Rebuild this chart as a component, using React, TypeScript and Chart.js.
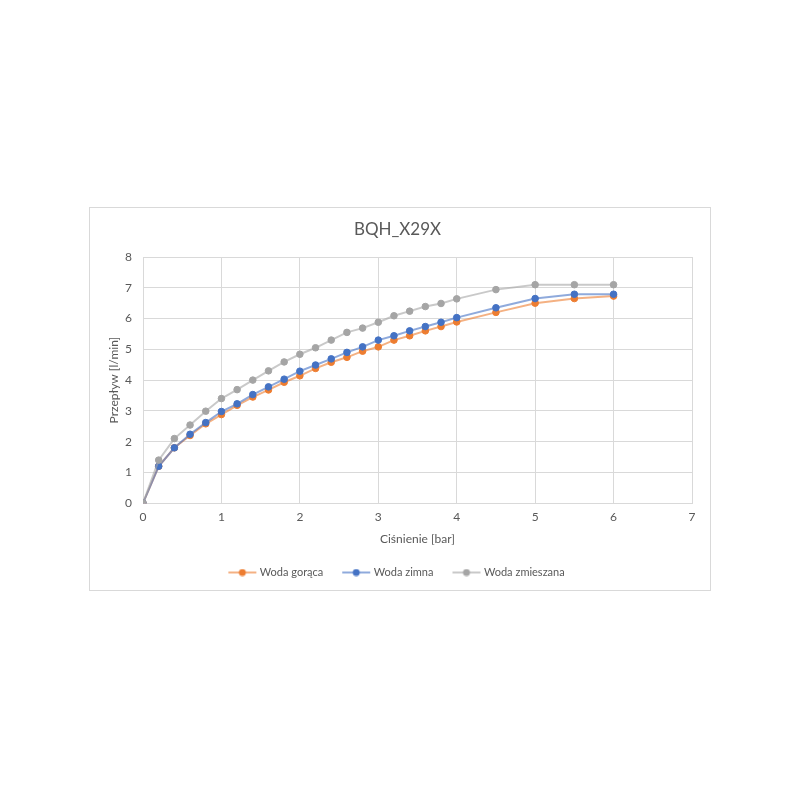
import React, { useEffect, useRef } from "react";
import { Chart, registerables } from "chart.js";

Chart.register(...registerables);

const pressure = [0, 0.2, 0.4, 0.6, 0.8, 1.0, 1.2, 1.4, 1.6, 1.8, 2.0, 2.2, 2.4, 2.6, 2.8, 3.0, 3.2, 3.4, 3.6, 3.8, 4.0, 4.5, 5, 5.5, 6];
const hotWater = [0, 1.2, 1.8, 2.2, 2.58, 2.88, 3.18, 3.45, 3.68, 3.93, 4.14, 4.38, 4.58, 4.74, 4.94, 5.08, 5.3, 5.44, 5.6, 5.74, 5.89, 6.2, 6.5, 6.65, 6.73];
const coldWater = [0, 1.2, 1.8, 2.24, 2.62, 2.98, 3.23, 3.53, 3.78, 4.03, 4.29, 4.49, 4.69, 4.9, 5.08, 5.3, 5.44, 5.6, 5.74, 5.88, 6.03, 6.35, 6.65, 6.79, 6.79];
const mixedWater = [0, 1.4, 2.1, 2.54, 2.99, 3.4, 3.69, 4.0, 4.3, 4.59, 4.84, 5.05, 5.3, 5.55, 5.69, 5.88, 6.09, 6.24, 6.39, 6.49, 6.64, 6.94, 7.1, 7.1, 7.1];

const seriesNames = ["Woda gorąca", "Woda zimna", "Woda zmieszana"];
const solidColors = ["#ED7D31", "#4472C4", "#A5A5A5"];
const lineColors = ["rgba(237,125,49,0.6)", "rgba(68,114,196,0.6)", "rgba(165,165,165,0.6)"];

const FONT = "Lato, 'Open Sans', sans-serif";
const TEXT = "#595959";
const GRID = "#D9D9D9";

function legendIcon(lineColor: string, dotColor: string): HTMLCanvasElement {
  const c = document.createElement("canvas");
  c.width = 30;
  c.height = 8;
  const ctx = c.getContext("2d")!;
  ctx.strokeStyle = lineColor;
  ctx.lineWidth = 2;
  ctx.beginPath();
  ctx.moveTo(1, 4);
  ctx.lineTo(29, 4);
  ctx.stroke();
  ctx.fillStyle = dotColor;
  ctx.beginPath();
  ctx.arc(15, 4, 3.5, 0, Math.PI * 2);
  ctx.fill();
  return c;
}

export default function App() {
  const ref = useRef<HTMLCanvasElement | null>(null);

  useEffect(() => {
    if (!ref.current) return;
    const all = [hotWater, coldWater, mixedWater];
    const datasets = all.map((vals, i) => ({
      label: seriesNames[i],
      data: vals.map((v, j) => ({ x: pressure[j], y: v })),
      borderColor: lineColors[i],
      backgroundColor: solidColors[i],
      pointBackgroundColor: solidColors[i],
      pointBorderColor: solidColors[i],
      pointBorderWidth: 1,
      pointRadius: 3.3,
      borderWidth: 2,
      showLine: true,
      tension: 0,
      order: 3 - i,
    }));
    const icons = [0, 1, 2].map((i) => legendIcon(lineColors[i], solidColors[i]));

    const chart = new Chart(ref.current, {
      type: "scatter",
      data: { datasets },
      options: {
        animation: false,
        responsive: false,
        maintainAspectRatio: false,
        layout: { padding: { left: 13, right: 18, top: 0, bottom: 2 } },
        plugins: {
          title: {
            display: true,
            text: "BQH_X29X",
            color: TEXT,
            font: { family: FONT, size: 17, weight: "normal", lineHeight: 1 },
            padding: { top: 13.5, bottom: 18.5 },
          },
          legend: {
            display: true,
            position: "bottom",
            labels: {
              usePointStyle: true,
              pointStyleWidth: 24,
              padding: 21,
              color: TEXT,
              font: { family: FONT, size: 11 },
              generateLabels: () =>
                seriesNames.map((n, i) => ({
                  text: n,
                  fillStyle: solidColors[i],
                  strokeStyle: solidColors[i],
                  fontColor: TEXT,
                  lineWidth: 0,
                  pointStyle: icons[i],
                  datasetIndex: i,
                  hidden: false,
                })),
            },
          },
          tooltip: { enabled: false },
        },
        scales: {
          x: {
            type: "linear",
            min: 0,
            max: 7,
            ticks: { stepSize: 1, color: TEXT, padding: 7, font: { family: FONT, size: 12 } },
            grid: { color: GRID, drawTicks: false },
            border: { color: GRID },
            title: {
              display: true,
              text: "Ciśnienie [bar]",
              color: TEXT,
              font: { family: FONT, size: 12 },
              padding: { top: 0, bottom: 0 },
            },
            afterFit: (s: any) => {
              s.height = 42.8;
            },
          },
          y: {
            type: "linear",
            min: 0,
            max: 8,
            ticks: { stepSize: 1, color: TEXT, padding: 11, font: { family: FONT, size: 12 } },
            grid: { color: GRID, drawTicks: false },
            border: { color: GRID },
            title: {
              display: true,
              text: "Przepływ [l/min]",
              color: TEXT,
              font: { family: FONT, size: 12 },
              padding: { top: 4, bottom: 0 },
            },
            afterFit: (s: any) => {
              s.width = 40;
            },
          },
        },
      },
    });
    return () => chart.destroy();
  }, []);

  return (
    <div
      style={{
        position: "absolute",
        left: 89,
        top: 207,
        width: 620,
        height: 382,
        border: "1px solid #D9D9D9",
        background: "#fff",
      }}
    >
      <canvas ref={ref} width={620} height={382} style={{ display: "block" }} />
    </div>
  );
}
